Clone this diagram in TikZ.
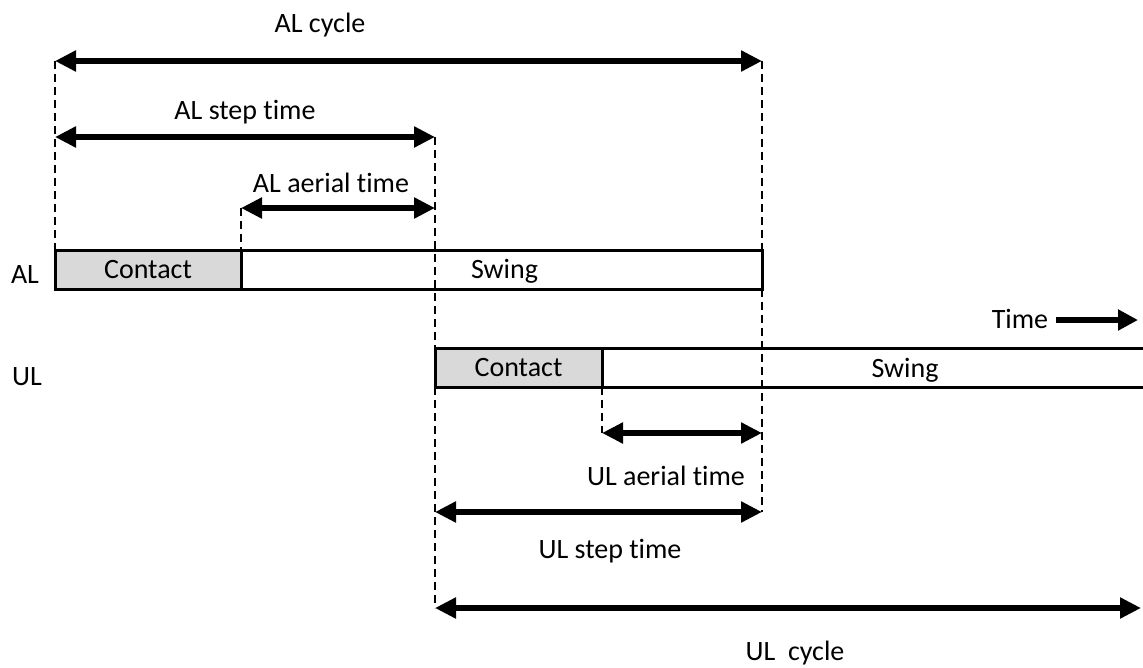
\documentclass[tikz,border=0pt]{standalone}
\usepackage{fontspec}
\setmainfont{Carlito}[Ligatures=NoCommon]
\usetikzlibrary{positioning, arrows.meta}
\definecolor{contactgray}{RGB}{217,217,217}

\begin{document}
\begin{tikzpicture}[
    % GLOBAL CFG
    x=1pt, y=-1pt,
    font=\fontsize{28}{32}\selectfont,
    % Styles
    span/.style={% For the double headed time spans
        {Triangle[length=21pt,width=20pt]}-{Triangle[length=21pt,width=20pt]},
        line width=6.5pt,
        },
    guide/.style={% For the dashed event lines
        dash pattern=on 8pt off 5pt,
        line width=1.8pt,
        },
    phase/.style={% For one phase of a gait bar
        rectangle,
        draw,
        line width=3pt,
        fill=white,
        inner sep=0pt,
        outer sep=0pt,
        anchor=north west,
        minimum height=39pt,
        text height=17pt,
        text depth=0pt,
        },
    contact/.style={% Stance part of the bar
        phase,
        fill=contactgray,
        },
    lbl/.style={% Text labels
        anchor=base,
        },
    ]

    \useasboundingbox (0,0) rectangle (1143,667);

    % Rows of the span arrows
    \coordinate (row_al_cycle) at (0,61);
    \coordinate (row_al_step) at (0,137);
    \coordinate (row_al_aerial) at (0,208);
    \coordinate (row_ul_aerial) at (0,433);
    \coordinate (row_ul_step) at (0,512);
    \coordinate (row_ul_cycle) at (0,608);
    \coordinate (right_edge) at (1143,0);

    % Draw the bars
    \node [contact, minimum width=186pt] (al_contact) at (55,250) {Contact};
    \node [phase, minimum width=521pt] (al_swing) at (al_contact.north east) {\hspace{6pt}Swing};
    \node [contact, minimum width=167pt] (ul_contact) at (435,348) {Contact};
    \draw [line width=3pt] (ul_contact.north east) -- (ul_contact.north east -| right_edge);
    \draw [line width=3pt] (ul_contact.south east) -- (ul_contact.south east -| right_edge);
    \node [lbl] (ul_swing) at (905,377) {Swing};

    \node [lbl] (al_lbl) at (25,283) {AL};
    \node [lbl] (ul_lbl) at (27,385) {UL};

    % Dashed event lines
    \draw [guide] (al_contact.north west |- row_al_cycle) -- (al_contact.north west);
    \draw [guide] (al_swing.north west |- row_al_aerial) -- (al_swing.north west);
    \draw [guide] (ul_contact.north west |- row_al_step) -- (ul_contact.north west);
    \draw [guide] (ul_contact.south west) -- (ul_contact.south west |- row_ul_cycle);
    \draw [guide] (al_swing.north east |- row_al_cycle) -- (al_swing.north east);
    \draw [guide] (al_swing.south east) -- (al_swing.south east |- row_ul_step);
    \draw [guide] (ul_contact.south east) -- (ul_contact.south east |- row_ul_aerial);

    % Span arrows and their labels
    \draw [span] (al_contact.north west |- row_al_cycle) -- (al_swing.north east |- row_al_cycle);
    \node [lbl] (al_cycle_lbl) at (320,32) {AL cycle};

    \draw [span] (al_contact.north west |- row_al_step) -- (ul_contact.north west |- row_al_step);
    \node [lbl] (al_step_lbl) at (245,119) {AL step time};

    \draw [span] (al_swing.north west |- row_al_aerial) -- (ul_contact.north west |- row_al_aerial);
    \node [lbl] (al_aerial_lbl) at (331,192) {AL aerial time};

    \draw [span] (ul_contact.south east |- row_ul_aerial) -- (al_swing.south east |- row_ul_aerial);
    \node [lbl] (ul_aerial_lbl) at (666,485) {UL aerial time};

    \draw [span] (ul_contact.south west |- row_ul_step) -- (al_swing.south east |- row_ul_step);
    \node [lbl] (ul_step_lbl) at (610,558) {UL step time};

    \coordinate (ul_cycle_end) at (1141,608);
    \draw [span] (ul_contact.south west |- row_ul_cycle) -- (ul_cycle_end);
    \node [lbl] (ul_cycle_lbl) at (795,660) {UL\ \ cycle};

    % Time direction
    \node [lbl] (time_lbl) at (1020,328) {Time};
    \coordinate (time_tip) at (1138,320);
    \draw [-{Triangle[length=20pt,width=20pt]}, line width=6pt, shorten <=4pt] (time_lbl.east |- time_tip) -- (time_tip);

\end{tikzpicture}
\end{document}
